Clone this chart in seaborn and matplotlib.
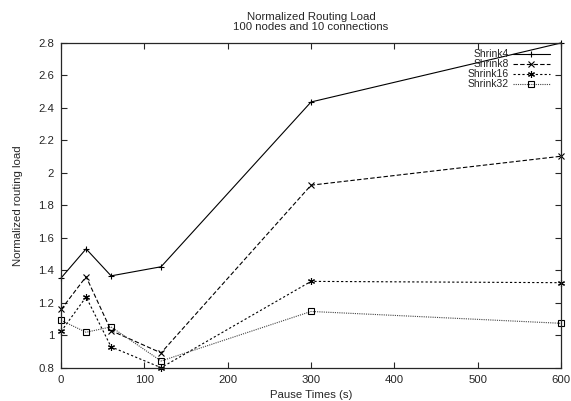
import pandas as pd
import numpy as np
import matplotlib
matplotlib.use('Agg')
import matplotlib.pyplot as plt
import seaborn as sns

# Values
pause_times = [0, 30, 60, 120, 300, 600]
shrink4 = [1.354, 1.533, 1.367, 1.423, 2.437, 2.80]
shrink8 = [1.16, 1.362, 1.03, 0.893, 1.925, 2.103]
shrink16 = [1.025, 1.237, 0.93, 0.802, 1.333, 1.325]
shrink32 = [1.093, 1.02, 1.053, 0.843, 1.148, 1.075]
series_names = ['Shrink4', 'Shrink8', 'Shrink16', 'Shrink32']
ytick_labels = ['0.8', '1', '1.2', '1.4', '1.6', '1.8', '2', '2.2', '2.4', '2.6', '2.8']

sns.set_style('ticks')
plt.rcParams['font.family'] = ['Liberation Sans', 'DejaVu Sans']
fs = 8.2

fig = plt.figure(figsize=(5.71, 4.01), dpi=100)
ax = fig.add_axes([0.107, 0.0823, 0.8755, 0.8105])

# per-series style: line colour, dash pattern, marker
styles = {
    'Shrink4': ('black', '-', '+'),
    'Shrink8': ('black', (0, (4, 2)), 'x'),
    'Shrink16': ('black', (0, (2, 2)), (6, 2, 0)),
    'Shrink32': ('#444444', (0, (1, 1)), 's'),
}

for name, vals in zip(series_names, [shrink4, shrink8, shrink16, shrink32]):
    color, ls, mk = styles[name]
    sns.lineplot(x=pause_times, y=vals, ax=ax, label=name, color=color,
                 linestyle=ls, linewidth=0.8, marker=mk, markersize=5,
                 markeredgewidth=0.8, markerfacecolor='none',
                 markeredgecolor='black', clip_on=False)

ax.set_xlim(0, 600)
ax.set_ylim(0.8, 2.8)
ax.set_xticks(np.arange(0, 601, 100))
ax.set_yticks(np.arange(0.8, 2.81, 0.2))
ax.set_yticklabels(ytick_labels)
ax.tick_params(direction='in', length=4, width=0.8, top=True, right=True,
               labelsize=fs, pad=5)
for s in ax.spines.values():
    s.set_linewidth(0.9)
    s.set_visible(True)

ax.set_xlabel('Pause Times (s)', fontsize=fs, labelpad=4)
ax.set_ylabel('Normalized routing load', fontsize=fs, labelpad=11)
ax.set_title('Normalized Routing Load\n100 nodes and 10 connections', fontsize=fs,
             linespacing=1.05, pad=9)

leg = ax.legend(loc='upper right', bbox_to_anchor=(0.978, 0.98), frameon=False,
                markerfirst=False, handlelength=3.6, handletextpad=0.35,
                labelspacing=0.0, borderaxespad=0, borderpad=0, fontsize=7.5)

plt.savefig('out.png', dpi=100)
